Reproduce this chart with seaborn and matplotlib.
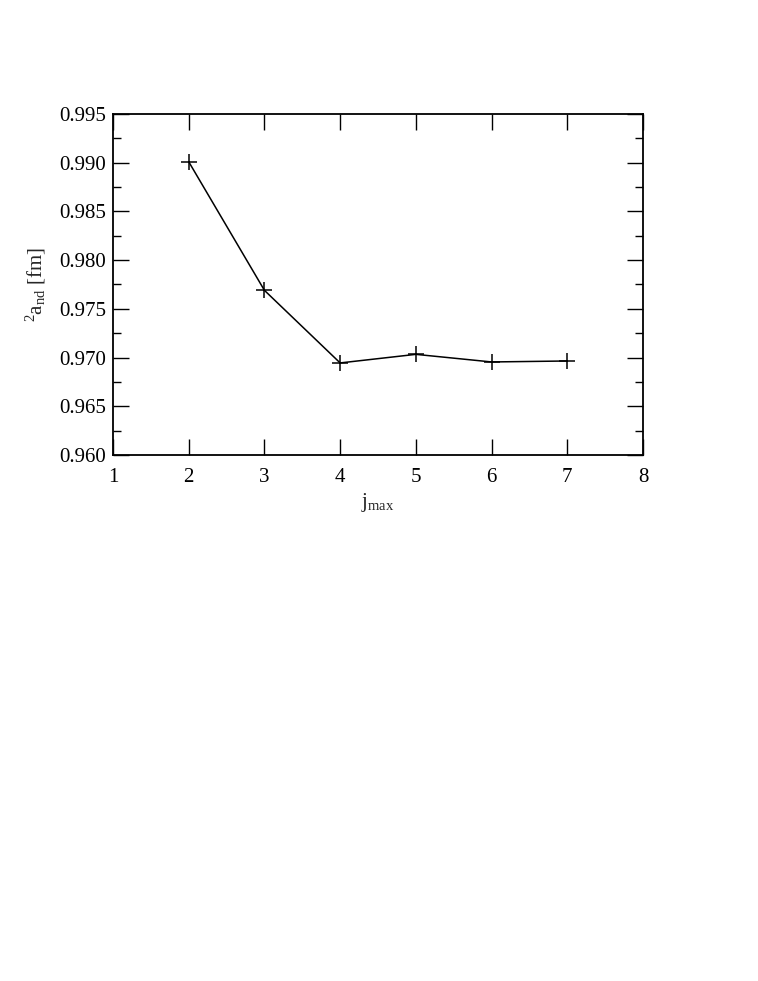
import matplotlib
matplotlib.use("Agg")
import matplotlib.pyplot as plt
import seaborn as sns
import pandas as pd
from matplotlib.ticker import MultipleLocator

jmax = [2, 3, 4, 5, 6, 7]
a_nd = [0.9901, 0.9769, 0.96945, 0.97033, 0.96955, 0.96965]

sns.set_style("ticks")
plt.rcParams['font.family'] = ['Liberation Serif', 'DejaVu Serif']
plt.rcParams['mathtext.fontset'] = 'custom'
plt.rcParams['mathtext.rm'] = 'Liberation Serif'
plt.rcParams['mathtext.it'] = 'Liberation Serif:italic'

df = pd.DataFrame({"jmax": jmax, "a": a_nd})

fig = plt.figure(figsize=(7.58, 9.81), dpi=100)
ax = fig.add_axes([113/758, 1 - 455/981, (643-113)/758, (455-114)/981])
sns.lineplot(data=df, x="jmax", y="a", ax=ax, color="black", linewidth=1.1,
             marker="+", markersize=11.5, markeredgewidth=1.1, markeredgecolor="black")

ax.set_xlim(1, 8)
ax.set_ylim(0.960, 0.995)
ax.xaxis.set_major_locator(MultipleLocator(1))
ax.yaxis.set_major_locator(MultipleLocator(0.005))
ax.yaxis.set_minor_locator(MultipleLocator(0.0025))
ax.yaxis.set_major_formatter(matplotlib.ticker.FormatStrFormatter('%.3f'))
ax.tick_params(which='both', direction='in', top=True, right=True, labelsize=15, width=1, colors='black')
ax.tick_params(which='major', length=11.5)
ax.tick_params(which='minor', length=5.5)
ax.tick_params(axis='x', which='major', pad=9)
ax.tick_params(axis='y', which='major', pad=5)
for s in ax.spines.values():
    s.set_linewidth(1.3)
    s.set_color('black')

ax.set_xlabel(r"j$_{\mathrm{max}}$", fontsize=15, labelpad=3)
ax.set_ylabel(r"$^{2}$a$_{\mathrm{nd}}$ [fm]", fontsize=15, labelpad=8)

fig.savefig("out.png", dpi=100)
